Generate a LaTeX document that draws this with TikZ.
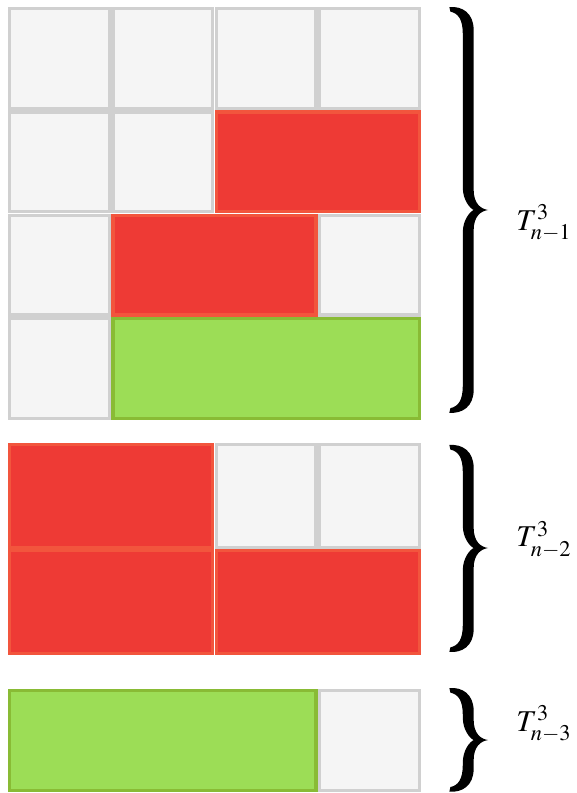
\documentclass[tikz,border=0pt]{standalone}
\usepackage{mathptmx}

\definecolor{cellgray}{HTML}{F5F5F5}
\definecolor{cellline}{HTML}{D0D0D0}
\definecolor{tilered}{HTML}{EE3A35}
\definecolor{redline}{HTML}{F2553D}
\definecolor{tilegreen}{HTML}{9CDD56}
\definecolor{greenline}{HTML}{89BB35}

\tikzset{
  blank/.style={fill=cellgray, draw=cellline, line width=1.6pt},
  redtile/.style={fill=tilered, draw=redline, line width=1.6pt},
  greentile/.style={fill=tilegreen, draw=greenline, line width=1.6pt},
  setlabel/.style={anchor=base west, inner sep=0pt, font=\fontsize{15}{18}\selectfont}
}

% style, x, y, width, height (in cells)
\newcommand{\tile}[5]{%
  \draw[#1] ({#2+0.016},{#3+0.016}) rectangle ({#2+#4-0.016},{#3+#5-0.016});}

% top, tip, bottom of a curly brace
\newcommand{\curly}[3]{%
  \fill (4.275,#1) .. controls (4.40,{#1-0.01}) and (4.51,{#1+0.06}) .. (4.51,{#1+0.22})
    -- (4.51,{#2-0.2}) .. controls (4.51,{#2-0.06}) and (4.58,{#2-0.01}) .. (4.65,#2)
    .. controls (4.58,{#2+0.01}) and (4.51,{#2+0.06}) .. (4.51,{#2+0.2})
    -- (4.51,{#3-0.22}) .. controls (4.51,{#3-0.06}) and (4.40,{#3+0.01}) .. (4.275,#3)
    -- (4.285,{#3-0.045}) .. controls (4.36,{#3-0.06}) and (4.405,{#3-0.12}) .. (4.405,{#3-0.26})
    -- (4.405,{#2+0.22}) .. controls (4.405,{#2+0.1}) and (4.47,{#2+0.02}) .. (4.51,#2)
    .. controls (4.47,{#2-0.02}) and (4.405,{#2-0.1}) .. (4.405,{#2-0.22})
    -- (4.405,{#1+0.26}) .. controls (4.405,{#1+0.12}) and (4.36,{#1+0.06}) .. (4.285,{#1+0.045}) -- cycle;}

\begin{document}
\begin{tikzpicture}[x=1.8cm, y=-1.8cm]
  \useasboundingbox (-0.0775,-0.068) rectangle (5.511,7.613);
  % first block
  \tile{blank}{0}{0}{1}{1}
  \tile{blank}{1}{0}{1}{1}
  \tile{blank}{2}{0}{1}{1}
  \tile{blank}{3}{0}{1}{1}
  \tile{blank}{0}{1}{1}{1}
  \tile{blank}{1}{1}{1}{1}
  \tile{redtile}{2}{1}{2}{1}
  \tile{blank}{0}{2}{1}{1}
  \tile{redtile}{1}{2}{2}{1}
  \tile{blank}{3}{2}{1}{1}
  \tile{blank}{0}{3}{1}{1}
  \tile{greentile}{1}{3}{3}{1}
  % second block
  \tile{redtile}{0}{4.22}{2}{1.03}
  \tile{blank}{2}{4.22}{1}{1.03}
  \tile{blank}{3}{4.22}{1}{1.03}
  \tile{redtile}{0}{5.25}{2}{1.03}
  \tile{redtile}{2}{5.25}{2}{1.03}
  % third block
  \tile{greentile}{0}{6.605}{3}{1}
  \tile{blank}{3}{6.605}{1}{1}
  % braces
  \curly{0.0}{1.966}{3.93}
  \curly{4.242}{5.24}{6.247}
  \curly{6.596}{7.10}{7.60}
  \node[setlabel] (t1) at (4.92,2.16) {$T^3_{n-1}$};
  \node[setlabel] (t2) at (4.92,5.23) {$T^3_{n-2}$};
  \node[setlabel] (t3) at (4.92,7.02) {$T^3_{n-3}$};
\end{tikzpicture}
\end{document}
